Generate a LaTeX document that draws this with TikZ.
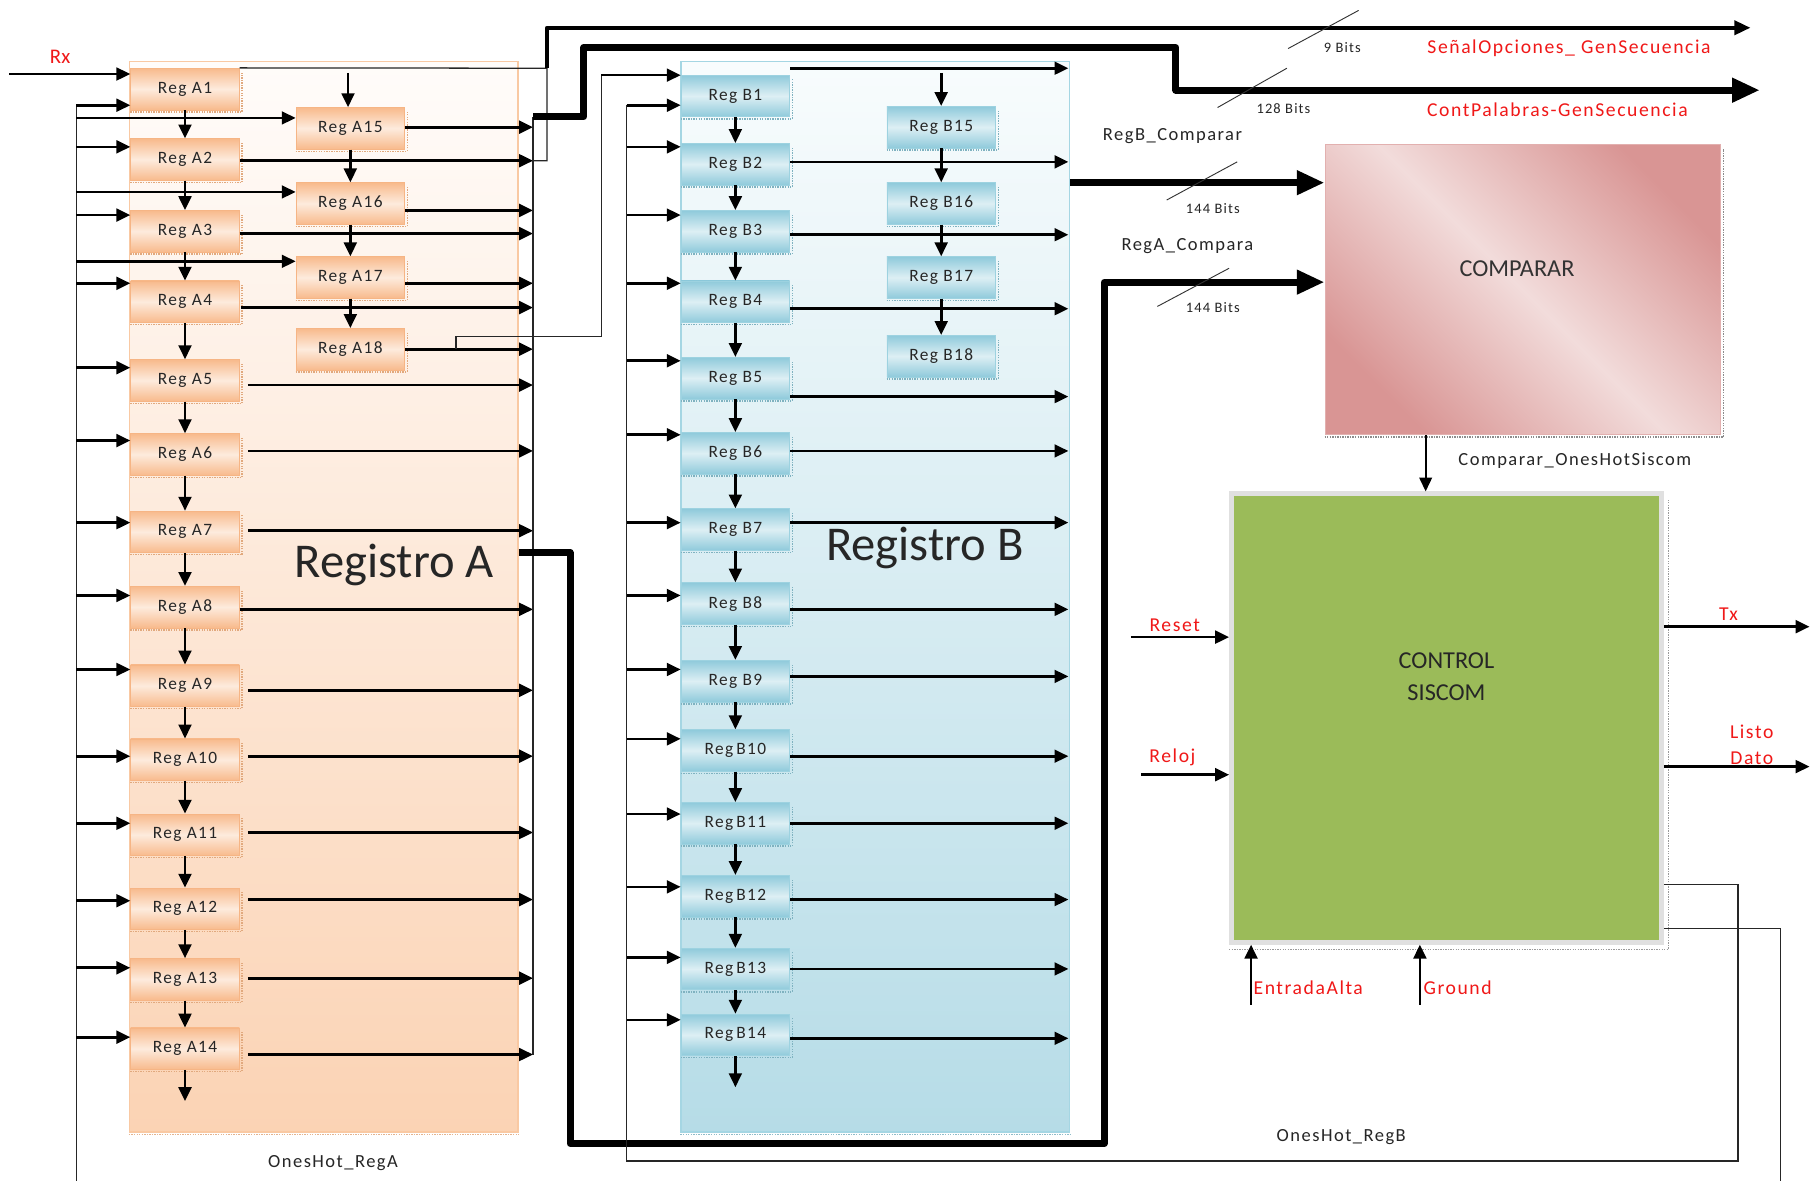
\documentclass[tikz,border=0pt]{standalone}
\usepackage{fontspec}
\setmainfont{Carlito}
\newfontfamily\spacedfont{Carlito}[LetterSpace=8]
\usetikzlibrary{arrows.meta,calc}

\definecolor{orgdark}{HTML}{F8BA8C}
\definecolor{orglight}{HTML}{FDEBDD}
\definecolor{orgedge}{HTML}{F6B585}
\definecolor{orgshade}{HTML}{D9935E}
\definecolor{orgtop}{HTML}{FFFCFA}
\definecolor{orgbot}{HTML}{FBD3B4}
\definecolor{orgframe}{HTML}{F9C9A3}
\definecolor{bludark}{HTML}{8FCADB}
\definecolor{blulight}{HTML}{DDEFF4}
\definecolor{bluedge}{HTML}{9DD2E0}
\definecolor{blushade}{HTML}{5F9FB0}
\definecolor{blutop}{HTML}{F8FCFD}
\definecolor{blubot}{HTML}{B6DCE7}
\definecolor{bluframe}{HTML}{A5D6E3}
\definecolor{cmpdark}{HTML}{D99594}
\definecolor{cmplight}{HTML}{F2DCDB}
\definecolor{cmpedge}{HTML}{E2B0AF}
\definecolor{ctlgreen}{HTML}{9BBB59}
\definecolor{sigred}{HTML}{F01818}

\begin{document}
\begin{tikzpicture}[x=1pt,y=-1pt,
  wire/.style={line width=1.1pt, draw=black!85},
  sig/.style={line width=2.3pt, draw=black, -{Triangle[length=12pt,width=11pt]}},
  bus/.style={line width=6pt, draw=black, line join=round, -{Triangle[length=24pt,width=20pt]}},
  midbus/.style={line width=3.5pt, draw=black, line join=round, -{Triangle[length=14pt,width=12pt]}},
  regbox/.style={line width=0.6pt, minimum width=94pt, minimum height=36pt, inner sep=0pt,
    font=\spacedfont\fontsize{15}{18}\selectfont, text=black!85},
  rega/.style={regbox, draw=orgedge, top color=orgdark, bottom color=orgdark, middle color=orglight},
  regb/.style={regbox, draw=bluedge, top color=bludark, bottom color=bludark, middle color=blulight},
  dropline/.style={densely dotted, line width=1.2pt},
  lbl/.style={inner sep=0pt, font=\spacedfont\fontsize{16}{19}\selectfont, text=black!85},
  rlbl/.style={lbl, text=sigred, font=\spacedfont\fontsize{17}{19}\selectfont},
  bits/.style={inner sep=0pt, font=\spacedfont\fontsize{12.5}{15}\selectfont, text=black!85},
  title/.style={inner sep=0pt, font=\fontsize{42}{46}\selectfont, text=black!85},
  blocktxt/.style={inner sep=0pt, font=\fontsize{21}{25}\selectfont, text=black!80, align=center},
  slash/.style={line width=0.8pt, draw=black!80}
]
\useasboundingbox (0,0) rectangle (1568,1021);
\fill[white] (0,0) rectangle (1568,1021);

% register containers
\node[draw=orgframe, line width=1pt, top color=orgtop, bottom color=orgbot,
      minimum width=336pt, minimum height=926pt, inner sep=0pt] (contA) at (280,516) {};
\node[draw=bluframe, line width=1pt, top color=blutop, bottom color=blubot,
      minimum width=336pt, minimum height=926pt, inner sep=0pt] (contB) at (757,516) {};
\draw[dropline, draw=orgshade!70] ([yshift=-1.5pt]contA.south west) -- ([yshift=-1.5pt]contA.south east);
\draw[dropline, draw=blushade!70] ([yshift=-1.5pt]contB.south west) -- ([yshift=-1.5pt]contB.south east);
\node[title] (titA) at (341,489) {Registro A};
\node[title] (titB) at (800,474) {Registro B};

% register A cells
\foreach \i/\y in {1/77,2/138,3/200,4/261,5/329,6/393,7/460,8/525,9/593,10/657,11/722,12/786,13/847,14/907}
  \node[rega] (A\i) at (160,\y) {Reg A\i};
\foreach \i/\y in {15/111,16/176,17/240,18/302}
  \node[rega] (A\i) at (303,\y) {Reg A\i};

% register B cells
\foreach \i/\y in {1/83,2/142,3/200,4/261,5/327,6/392,7/458,8/522,9/589}
  \node[regb] (B\i) at (636,\y) {Reg B\i};
\foreach \i/\y in {10/649,11/712,12/775,13/838,14/895}
  \node[regb] (B\i) at (636,\y) {Reg\,B\i};
\foreach \i/\y in {15/110,16/176,17/240,18/308}
  \node[regb] (B\i) at (814,\y) {Reg B\i};

% drop shadows of the cells
\foreach \i in {1,...,18} {
  \draw[dropline, draw=orgshade!80] ([yshift=-1.5pt]A\i.south west) -- ([yshift=-1.5pt,xshift=2pt]A\i.south east)
        -- ([xshift=2pt,yshift=-4pt]A\i.north east);
  \draw[dropline, draw=blushade!80] ([yshift=-1.5pt]B\i.south west) -- ([yshift=-1.5pt,xshift=2pt]B\i.south east)
        -- ([xshift=2pt,yshift=-4pt]B\i.north east);
}

% comparator and controller
\node[draw=cmpedge, line width=1pt, top color=cmpdark, bottom color=cmpdark, middle color=cmplight,
      shading angle=-45, minimum width=342pt, minimum height=251pt, inner sep=0pt] (cmp) at (1317,250.5) {};
\draw[dropline, draw=black!45] ([yshift=-1.5pt]cmp.south west) -- ([yshift=-1.5pt,xshift=2pt]cmp.south east)
      -- ([xshift=2pt,yshift=-4pt]cmp.north east);
\node[blocktxt] (cmptxt) at (1312,232) {COMPARAR};
\node[draw=black!12, line width=4pt, fill=ctlgreen, minimum width=372pt, minimum height=388pt,
      inner sep=0pt] (ctl) at (1251,621) {};
\draw[dropline, draw=black!40] ([yshift=-4pt]ctl.south west) -- ([yshift=-4pt,xshift=4pt]ctl.south east)
      -- ([xshift=4pt,yshift=-6pt]ctl.north east);
\node[blocktxt, text=black!85] (ctltxt) at (1251,585) {CONTROL\\[3pt]SISCOM};

% shift chains
\foreach \i [count=\j from 2] in {1,...,13} {
  \draw[sig] (A\i.south) -- (A\j.north);
  \draw[sig] (B\i.south) -- (B\j.north);
}
\draw[sig] (A14.south) -- ++(0,27);
\draw[sig] (B14.south) -- ++(0,27);
\foreach \i [count=\j from 16] in {15,16,17} {
  \draw[sig] (A\i.south) -- (A\j.north);
  \draw[sig] (B\i.south) -- (B\j.north);
}
\coordinate (a15in) at (301,63);
\coordinate (b15in) at (814,63);
\draw[sig] (a15in) -- (a15in |- A15.north);
\draw[sig] (b15in) -- (b15in |- B15.north);

% input buses
\coordinate (busA) at (66,91);
\coordinate (busB) at (542,91);
\draw[wire] (busA) -- (66,1021);
\foreach \i/\y in {1/91,2/127,3/186,4/245,5/318,6/381,7/452,8/515,9/579,10/654,11/712,12/779,13/837,14/897,15/102,16/166,17/226}
  \draw[sig] (busA |- 0,\y) -- (A\i.west |- 0,\y);
\foreach \i/\y in {1/91,2/127,3/186,4/245,5/312,6/376,7/452,8/515,9/579,10/639,11/704,12/767,13/828,14/882}
  \draw[sig] (busB |- 0,\y) -- (B\i.west |- 0,\y);

% Rx input
\coordinate (rxin) at (8,64);
\draw[sig] (rxin) -- (A1.west |- rxin);
\node[rlbl, font=\fontsize{18}{19}\selectfont] (rx) at (52,49) {Rx};

% register A outputs to the collecting bus
\coordinate (colA) at (461,101);
\foreach \i/\y/\g in {2/139/0,3/202/0,4/266/1,5/333/7,6/390/7,7/459/7,8/527/0,9/597/7,10/654/7,11/720/7,12/778/7,13/846/7,14/912/7,15/110/0,16/182/0,17/245/0,18/302/0}
  \draw[sig] ($(A\i.east |- 0,\y)+(\g,0)$) -- (colA |- 0,\y);
\draw[wire] (colA) -- (colA |- 0,912);

% register B outputs
\coordinate (colB) at (924,59);
\draw[sig] (B1.east |- colB) -- (colB);
\foreach \i/\y in {2/140,3/203,4/267,5/343,6/390,7/452,8/527,9/585,10/654,11/712,12/778,13/838,14/898}
  \draw[sig] (B\i.east |- 0,\y) -- (colB |- 0,\y);

% SenalOpciones feed
\coordinate (op1) at (473,59);
\draw[wire] (A1.north east) -- (op1) -- (473,139) -- (colA |- 0,139);
\coordinate (senal) at (1514,24);
\draw[midbus] (op1) -- (473,24) -- (senal);
\draw[slash] (1114,42) -- (1175,9);
\node[bits] (b9) at (1161,41) {9 Bits};
\node[rlbl] (senallbl) at (1357,42) {SeñalOpciones\_ GenSecuencia};

% ContPalabras feed
\coordinate (cont) at (1522,78);
\draw[bus] (colA) -- (505,101) -- (505,41) -- (1017,41) -- (1017,78) -- (cont);
\draw[slash] (1053,93) -- (1113,59);
\node[bits] (b128) at (1110,94) {128 Bits};
\node[rlbl] (contlbl) at (1347,95) {ContPalabras-GenSecuencia};

% A18 tap into register B
\draw[wire] (A18.east |- 0,302) ++(44,0) coordinate (tap) -- (tap |- 0,291) -- (520,291) -- (520,65);
\draw[sig] (520,65) -- (B1.west |- 0,65);

% register B to comparator
\draw[bus] (contB.east |- 0,158) -- (cmp.west |- 0,158);
\draw[slash] (1009,173) -- (1070,140);
\node[bits] (b144b) at (1049,180) {144 Bits};
\node[lbl] (regbc) at (1014,118) {RegB\_Comparar};

% register A to comparator
\draw[bus] (contA.east |- 0,478) -- (493,478) -- (493,989) -- (955,989) -- (955,244) -- (cmp.west |- 0,244);
\draw[slash] (1001,265) -- (1063,232);
\node[bits] (b144a) at (1049,266) {144 Bits};
\node[lbl] (regac) at (1027,213) {RegA\_Compara};

% comparator result
\draw[sig, line width=1.6pt] (1233,0 |- cmp.south) -- (1233,0 |- ctl.north);
\node[lbl] (cmpout) at (1362,398) {Comparar\_OnesHotSiscom};

% controller inputs and outputs
\draw[sig] (978,551) -- (ctl.west |- 0,551);
\node[rlbl] (reset) at (1016,541) {Reset};
\draw[sig] (987,670) -- (ctl.west |- 0,670);
\node[rlbl] (reloj) at (1014,655) {Reloj};
\draw[sig] (ctl.east |- 0,542) -- (1565,542);
\node[rlbl] (tx) at (1495,531) {Tx};
\draw[sig] (ctl.east |- 0,663) -- (1565,663);
\node[rlbl, align=center, font=\spacedfont\fontsize{17}{23}\selectfont] (listo) at (1515,644) {Listo\\Dato};
\draw[sig] (1082,869) -- (1082,0 |- ctl.south);
\node[rlbl, anchor=west] (alta) at (1084,854) {EntradaAlta};
\draw[sig] (1228,869) -- (1228,0 |- ctl.south);
\node[rlbl, anchor=west] (gnd) at (1231,854) {Ground};

% one-hot feedback lines
\draw[wire] (ctl.east |- 0,765) -- (1503,765) -- (1503,1004) -- (busB |- 0,1004) -- (busB);
\draw[wire] (ctl.east |- 0,803) -- (1540,803) -- (1540,1021);
\node[lbl] (ohb) at (1160,983) {OnesHot\_RegB};
\node[lbl] (oha) at (288,1006) {OnesHot\_RegA};
\end{tikzpicture}
\end{document}
